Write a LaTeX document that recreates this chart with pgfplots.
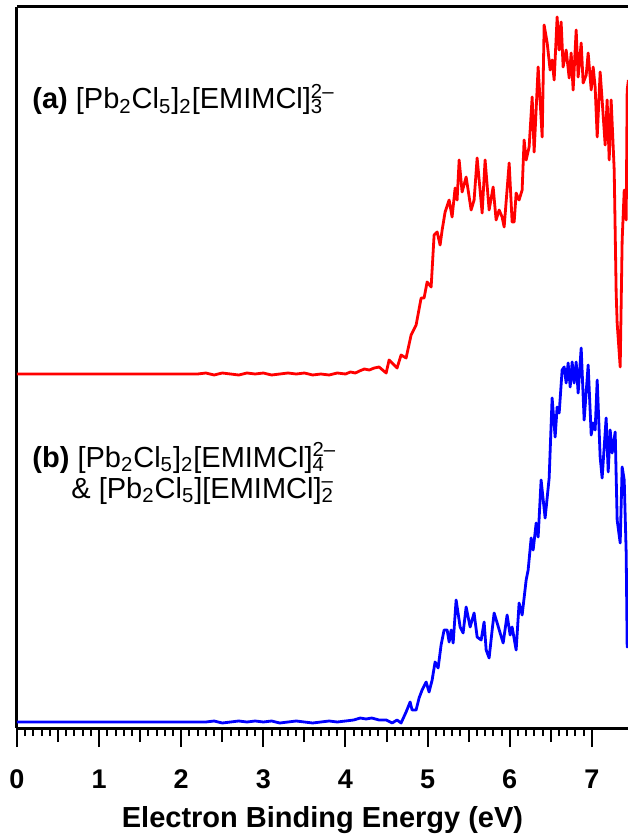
\documentclass[border=0pt]{standalone}
\usepackage{fontspec}
\setmainfont{Liberation Sans}
\usepackage{pgfplots}
\usepackage{pgfplotstable}
\pgfplotsset{compat=1.18}

\pgfplotstableread{
x y
0 354
2.20 354
2.30 355
2.40 353
2.50 355
2.60 354
2.70 353
2.80 355
2.90 354
3.00 355
3.10 353
3.20 354
3.30 355
3.40 354
3.50 355
3.60 353
3.70 354
3.80 353
3.90 355
4.00 354
4.06 356
4.12 355
4.17 357
4.23 359
4.29 358
4.35 360
4.409 361
4.495 355
4.531 368
4.628 360
4.677 373
4.738 370
4.799 393
4.860 403
4.921 430
4.957 430
4.994 446
5.043 441
5.079 493
5.116 496
5.152 483
5.177 498
5.213 516
5.262 528
5.298 511
5.335 540
5.359 528
5.384 568
5.420 536
5.469 551
5.530 518
5.566 528
5.603 570
5.664 515
5.700 568
5.749 518
5.798 541
5.834 508
5.871 518
5.907 511
5.932 501
5.993 565
6.029 506
6.054 506
6.078 535
6.114 528
6.151 538
6.175 588
6.200 568
6.236 581
6.273 631
6.297 576
6.346 661
6.395 591
6.419 703
6.456 685
6.492 658
6.516 668
6.541 648
6.577 711
6.602 678
6.626 706
6.650 661
6.687 678
6.724 650
6.748 675
6.772 638
6.809 698
6.833 651
6.870 685
6.894 645
6.931 653
6.955 675
6.992 638
7.016 661
7.040 641
7.065 591
7.101 656
7.125 628
7.162 583
7.186 628
7.211 568
7.235 628
7.272 558
7.296 435
7.308 405
7.345 361
7.369 488
7.394 538
7.418 508
7.430 638
7.445 648
}\reddata

\pgfplotstableread{
x y
0 6
2.30 6
2.40 7
2.50 5
2.60 6
2.70 7
2.80 6
2.90 7
3.00 6
3.10 7
3.20 5
3.30 6
3.40 7
3.50 6
3.60 5
3.70 6
3.80 7
3.90 6
4.00 7
4.10 8
4.18 10
4.25 9
4.32 10
4.409 8
4.495 8
4.568 5
4.628 8
4.677 5
4.738 16
4.787 26
4.811 18
4.860 18
4.896 30
4.933 38
4.982 46
5.018 36
5.055 48
5.091 66
5.128 60
5.164 83
5.201 98
5.238 98
5.262 86
5.286 98
5.311 85
5.347 128
5.396 101
5.432 95
5.469 121
5.518 101
5.566 115
5.603 91
5.652 88
5.688 106
5.713 78
5.749 70
5.786 98
5.810 115
5.847 105
5.883 95
5.920 85
5.968 113
6.005 93
6.029 101
6.078 78
6.114 125
6.151 113
6.200 148
6.224 158
6.261 190
6.285 178
6.322 205
6.346 191
6.382 248
6.431 210
6.480 250
6.516 330
6.553 291
6.577 321
6.602 315
6.638 358
6.663 361
6.687 345
6.711 365
6.736 341
6.760 366
6.784 345
6.809 366
6.833 335
6.870 380
6.906 308
6.955 363
6.992 293
7.016 305
7.040 298
7.065 348
7.101 271
7.125 250
7.174 310
7.199 256
7.223 298
7.247 275
7.284 296
7.308 208
7.345 185
7.369 261
7.394 248
7.418 175
7.430 81
7.445 85
}\bluedata

\begin{document}
\begin{tikzpicture}
\begin{axis}[
  name=ax,
  scale only axis,
  width=305.5pt, height=360.5pt,
  xmin=0, xmax=7.44, ymin=0, ymax=721,
  axis x line*=box, axis y line*=left,
  axis line style={line width=1.5pt, black},
  ytick=\empty,
  xtick={0,1,...,7},
  minor x tick num=9,
  extra x ticks={0.5,1.5,2.5,3.5,4.5,5.5,6.5},
  extra x tick labels={},
  extra x tick style={major tick length=7pt},
  xtick pos=left,
  tick align=outside,
  major tick length=9.5pt,
  minor tick length=4pt,
  every tick/.style={black, line width=1pt},
  /pgf/number format/assume math mode=true,
  xticklabel style={font=\bfseries\fontsize{13.5}{14}\selectfont, anchor=base, yshift=-20.5pt},
  xlabel={Electron Binding Energy (eV)},
  xlabel style={at={(axis description cs:0.5,0)}, anchor=base, yshift=-49.5pt, font=\bfseries\fontsize{14.5}{15}\selectfont},
  clip=true,
]
\addplot[red, line width=1.4pt, line join=round] table[x=x,y=y] {\reddata};
\addplot[blue, line width=1.4pt, line join=round] table[x=x,y=y] {\bluedata};
\node[anchor=base west, inner sep=0pt, font=\fontsize{14.5}{15}\selectfont] at (axis cs:0.183,619)
  {\textbf{(a)} [Pb\textsubscript{2}Cl\textsubscript{5}]\textsubscript{2}[EMIMCl]\rlap{\textsubscript{3}}\textsuperscript{2--}};
\node[anchor=base west, inner sep=0pt, font=\fontsize{14.5}{15}\selectfont] at (axis cs:0.183,261)
  {\textbf{(b)} [Pb\textsubscript{2}Cl\textsubscript{5}]\textsubscript{2}[EMIMCl]\rlap{\textsubscript{4}}\textsuperscript{2--}};
\node[anchor=base west, inner sep=0pt, font=\fontsize{14.5}{15}\selectfont] at (axis cs:0.658,230)
  {\& [Pb\textsubscript{2}Cl\textsubscript{5}][EMIMCl]\rlap{\textsubscript{2}}\textsuperscript{--}};
\end{axis}
\pgfresetboundingbox
\path[use as bounding box] ([shift={(-8.5pt,-54pt)}]ax.south west) rectangle ([shift={(0pt,3.5pt)}]ax.north east);
\end{tikzpicture}
\end{document}
